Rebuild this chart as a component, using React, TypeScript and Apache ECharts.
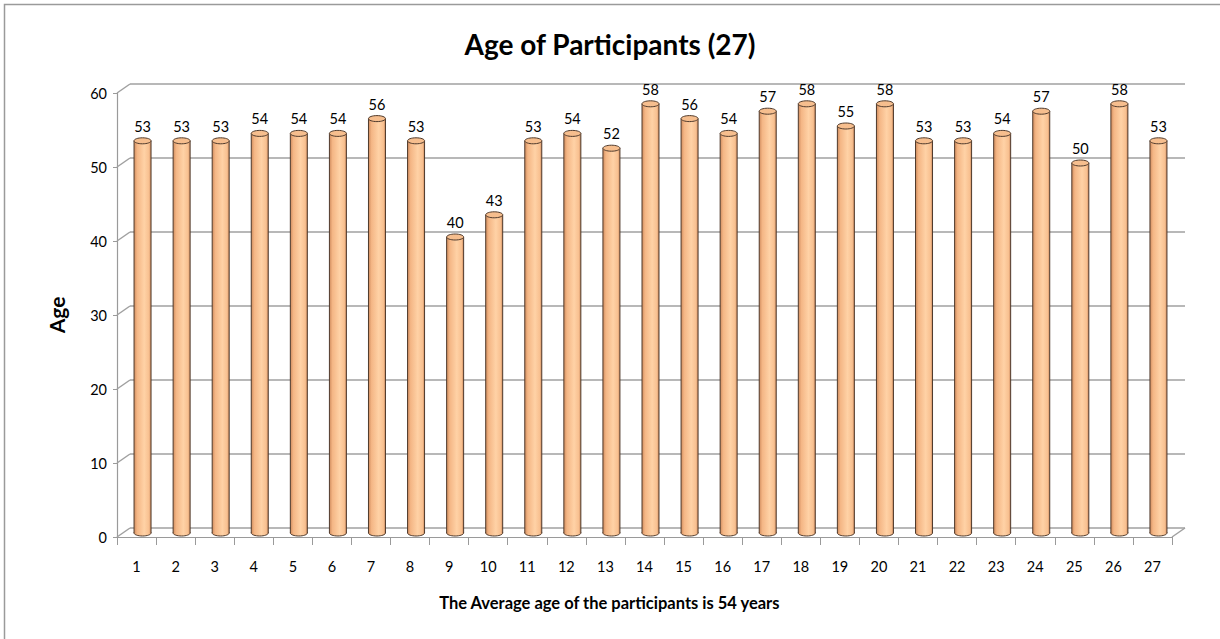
import React, { useEffect, useRef } from "react";
import * as echarts from "echarts";

const participants = Array.from({ length: 27 }, (_, i) => String(i + 1));
const ages = [53, 53, 53, 54, 54, 54, 56, 53, 40, 43, 53, 54, 52, 58, 56, 54, 57, 58, 55, 58, 53, 53, 54, 57, 50, 58, 53];
const yTicks = [0, 10, 20, 30, 40, 50, 60];
const titleText = "Age of Participants (27)";
const xTitle = "The Average age of the participants is 54 years";
const yTitle = "Age";

const FONT = "Lato, 'Open Sans', sans-serif";
const DX = 13;
const DY = -9;
const BX = 6;
const BY = -4;

export default function App() {
  const ref = useRef<HTMLDivElement>(null);
  useEffect(() => {
    document.body.style.margin = "0";
    const chart = echarts.init(ref.current!, null, { renderer: "svg" });
    const grid0 = { left: 117, top: 93, width: 1055, height: 444 };
    const grid1 = { left: 117 + DX, top: 93 + DY, width: 1055, height: 444 };
    const option: any = {
      animation: false,
      backgroundColor: "#ffffff",
      title: {
        text: titleText,
        left: "center",
        top: 25,
        textStyle: { fontFamily: FONT, fontWeight: "bold", fontSize: 28, color: "#000" },
      },
      graphic: [
        {
          type: "rect",
          shape: { x: 4.5, y: 4.5, width: 1230, height: 650 },
          style: { fill: "none", stroke: "#9a9a9a", lineWidth: 1.5 },
          silent: true,
          z: -10,
        },
        {
          type: "text",
          left: "center",
          top: 594,
          style: { text: xTitle, font: `bold 16.5px ${FONT}`, fill: "#000" },
        },
      ],
      grid: [
        { ...grid0, containLabel: false },
        { ...grid1, containLabel: false },
      ],
      xAxis: [
        {
          type: "category",
          gridIndex: 0,
          data: participants,
          axisLine: { show: true, lineStyle: { color: "#9a9a9a", width: 1.2 } },
          axisTick: { show: true, length: 8, lineStyle: { color: "#9a9a9a" } },
          axisLabel: { margin: 22, fontFamily: FONT, fontSize: 14.5, color: "#000" },
          splitLine: { show: false },
        },
        {
          type: "category",
          gridIndex: 1,
          data: participants,
          show: false,
        },
      ],
      yAxis: [
        {
          type: "value",
          gridIndex: 0,
          min: 0,
          max: 60,
          interval: 10,
          name: yTitle,
          nameLocation: "middle",
          nameRotate: 90,
          nameGap: 50,
          nameTextStyle: { fontFamily: FONT, fontWeight: "bold", fontSize: 21, color: "#000" },
          axisLine: { show: true, lineStyle: { color: "#9a9a9a", width: 1.2 } },
          axisTick: { show: true, length: 4, lineStyle: { color: "#9a9a9a" } },
          axisLabel: { margin: 10, fontFamily: FONT, fontSize: 14.5, color: "#000" },
          splitLine: { show: false },
        },
        {
          type: "value",
          gridIndex: 1,
          min: 0,
          max: 60,
          interval: 10,
          axisLine: { show: false },
          axisTick: { show: false },
          axisLabel: { show: false },
          splitLine: { show: true, lineStyle: { color: "#a0a0a0", width: 1.5 } },
        },
      ],
      series: [
        {
          type: "custom",
          xAxisIndex: 0,
          yAxisIndex: 0,
          data: yTicks.map((v) => [0, v]),
          silent: true,
          z: 1,
          renderItem: (params: any, api: any) => {
            const v = api.value(1);
            const y = api.coord([0, v])[1];
            const cs = params.coordSys;
            const children: any[] = [
              {
                type: "line",
                shape: { x1: cs.x, y1: y, x2: cs.x + DX, y2: y + DY },
                style: { stroke: "#a0a0a0", lineWidth: 1.5 },
              },
            ];
            if (v === 0) {
              children.push({
                type: "line",
                shape: { x1: cs.x + cs.width, y1: y, x2: cs.x + cs.width + DX, y2: y + DY },
                style: { stroke: "#a0a0a0", lineWidth: 1.5 },
              });
            }
            return { type: "group", children };
          },
        },
        {
          type: "custom",
          xAxisIndex: 0,
          yAxisIndex: 0,
          data: ages.map((v, i) => [i, v]),
          z: 5,
          renderItem: (params: any, api: any) => {
            const i = api.value(0);
            const v = api.value(1);
            const top = api.coord([i, v]);
            const bot = api.coord([i, 0]);
            const bw = api.size([1, 0])[0] * 0.435;
            const cx = top[0] + BX;
            const ty = top[1] + BY;
            const by = bot[1] + BY;
            const hw = bw / 2;
            const ry = 3;
            const grad = new echarts.graphic.LinearGradient(0, 0, 1, 0, [
              { offset: 0, color: "#D08C5E" },
              { offset: 0.18, color: "#F4B685" },
              { offset: 0.6, color: "#FFD2A6" },
              { offset: 0.88, color: "#F8C090" },
              { offset: 1, color: "#CC8A5E" },
            ]);
            const stroke = "#4f3a2c";
            return {
              type: "group",
              children: [
                {
                  type: "ellipse",
                  shape: { cx, cy: by, rx: hw, ry },
                  style: { fill: grad, stroke, lineWidth: 1 },
                },
                {
                  type: "rect",
                  shape: { x: cx - hw, y: ty, width: bw, height: by - ty },
                  style: { fill: grad },
                },
                {
                  type: "line",
                  shape: { x1: cx - hw, y1: ty, x2: cx - hw, y2: by },
                  style: { stroke, lineWidth: 1 },
                },
                {
                  type: "line",
                  shape: { x1: cx + hw, y1: ty, x2: cx + hw, y2: by },
                  style: { stroke, lineWidth: 1 },
                },
                {
                  type: "ellipse",
                  shape: { cx, cy: ty, rx: hw, ry },
                  style: { fill: "#F6BE8E", stroke, lineWidth: 1 },
                },
                {
                  type: "text",
                  x: cx,
                  y: ty - 7,
                  style: {
                    text: String(v),
                    fill: "#000",
                    font: `14.5px ${FONT}`,
                    align: "center",
                    verticalAlign: "bottom",
                  },
                },
              ],
            };
          },
        },
      ],
    };
    chart.setOption(option);
    return () => chart.dispose();
  }, []);
  return <div ref={ref} style={{ width: 1220, height: 639 }} />;
}
